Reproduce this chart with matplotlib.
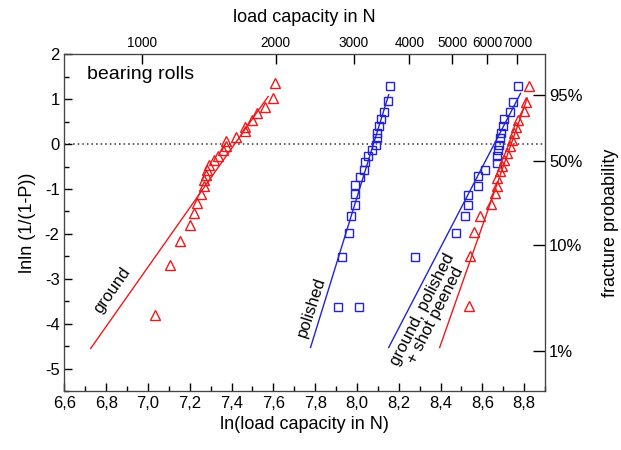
import numpy as np
import matplotlib
matplotlib.use("Agg")
import matplotlib.pyplot as plt
from matplotlib.ticker import MultipleLocator, FuncFormatter

plt.rcParams["font.family"] = ["Liberation Sans", "DejaVu Sans"]
plt.rcParams["axes.unicode_minus"] = False

RED = "#f01818"
BLUE = "#2222d8"

# ground (red triangles)
ground_x = [7.606, 7.596, 7.558, 7.524, 7.497, 7.462, 7.462, 7.421, 7.373, 7.373,
            7.361, 7.337, 7.314, 7.293, 7.282, 7.277, 7.266, 7.270, 7.253, 7.234,
            7.222, 7.202, 7.154, 7.106, 7.034]
ground_y = [1.356, 1.036, 0.836, 0.689, 0.540, 0.390, 0.296, 0.169, 0.073, -0.038,
            -0.127, -0.275, -0.349, -0.460, -0.571, -0.682, -0.793, -0.942, -1.111, -1.311,
            -1.533, -1.793, -2.164, -2.697, -3.816]
ground_fit_x = [6.726, 7.575]
ground_fit_y = [-4.55, 1.06]

# polished (blue squares)
polished_x = [8.160, 8.147, 8.128, 8.117, 8.107, 8.096, 8.096, 8.093, 8.072, 8.051,
              8.040, 8.032, 8.016, 7.992, 7.992, 7.992, 7.972, 7.964, 7.930, 7.908, 8.008]
polished_y = [1.302, 0.962, 0.725, 0.555, 0.407, 0.258, 0.133, -0.016, -0.142, -0.275,
              -0.408, -0.571, -0.733, -0.904, -1.104, -1.349, -1.608, -1.978, -2.520, -3.622, -3.622]
polished_fit_x = [7.778, 8.152]
polished_fit_y = [-4.53, 1.10]

# ground, polished (blue squares)
gp_x = [8.772, 8.746, 8.732, 8.703, 8.700, 8.691, 8.684, 8.679, 8.674, 8.671,
        8.668, 8.612, 8.580, 8.580, 8.531, 8.531, 8.515, 8.472, 8.277]
gp_y = [1.302, 0.947, 0.725, 0.555, 0.414, 0.258, 0.133, -0.016, -0.127, -0.275,
        -0.423, -0.571, -0.719, -0.927, -1.127, -1.349, -1.608, -1.978, -2.520]
gp_fit_x = [8.152, 8.783]
gp_fit_y = [-4.53, 1.13]

# ground, polished + shot peened (red triangles)
sp_x = [8.823, 8.810, 8.799, 8.770, 8.759, 8.751, 8.743, 8.732, 8.719, 8.706,
        8.695, 8.687, 8.671, 8.668, 8.663, 8.644, 8.587, 8.559, 8.540, 8.535]
sp_y = [1.302, 0.947, 0.740, 0.540, 0.390, 0.244, 0.096, -0.053, -0.200, -0.349,
        -0.497, -0.608, -0.756, -0.927, -1.089, -1.327, -1.608, -1.964, -2.497, -3.608]
sp_fit_x = [8.396, 8.815]
sp_fit_y = [-4.53, 1.02]

# top axis: load capacity in N (position on the bottom scale as printed)
top_ticks_N = [1000, 2000, 3000, 4000, 5000, 6000, 7000]
top_scale, top_offset = 0.9233, 0.5925

# right axis: fracture probability
prob_ticks = [0.95, 0.50, 0.10, 0.01]
prob_labels = ["95%", "50%", "10%", "1%"]

fig = plt.figure(figsize=(6.21, 4.5), dpi=100)
ax = fig.add_axes([0.1037, 0.1311, 0.7739, 0.7482])

ax.axhline(0, color="#333333", ls=(0, (1, 2)), lw=1.1, zorder=1)

ax.plot(ground_fit_x, ground_fit_y, color=RED, lw=1)
ax.plot(ground_x, ground_y, ls="none", marker="^", ms=7.5, mfc="none", mec=RED, mew=1)
ax.plot(polished_fit_x, polished_fit_y, color=BLUE, lw=1)
ax.plot(polished_x, polished_y, ls="none", marker="s", ms=6, mfc="none", mec=BLUE, mew=1)
ax.plot(gp_fit_x, gp_fit_y, color=BLUE, lw=1)
ax.plot(gp_x, gp_y, ls="none", marker="s", ms=6, mfc="none", mec=BLUE, mew=1)
ax.plot(sp_fit_x, sp_fit_y, color=RED, lw=1)
ax.plot(sp_x, sp_y, ls="none", marker="^", ms=7.5, mfc="none", mec=RED, mew=1)

ax.set_xlim(6.6, 8.9)
ax.set_ylim(-5.5, 2)
ax.xaxis.set_major_locator(MultipleLocator(0.2))
ax.xaxis.set_minor_locator(MultipleLocator(0.1))
ax.yaxis.set_major_locator(MultipleLocator(1))
ax.yaxis.set_minor_locator(MultipleLocator(0.5))
ax.xaxis.set_major_formatter(FuncFormatter(lambda v, p: f"{v:.1f}".replace(".", ",")))
ax.yaxis.set_major_formatter(FuncFormatter(lambda v, p: f"{v:.0f}"))
ax.tick_params(axis="both", which="major", direction="in", length=6, width=1, labelsize=12)
ax.tick_params(axis="both", which="minor", direction="in", length=3.5, width=1)
ax.tick_params(axis="y", right=False)
ax.tick_params(axis="x", top=False, which="both")
ax.set_xlabel("ln(load capacity in N)", fontsize=13, labelpad=4)
ax.set_ylabel("lnln (1/(1-P))", fontsize=13, labelpad=6)
for s in ax.spines.values():
    s.set_color("#444444")

ax.text(6.71, 1.55, "bearing rolls", fontsize=14, va="center")
ax.text(6.83, -3.25, "ground", fontsize=12, rotation=55, ha="center", va="center")
ax.text(7.78, -3.62, "polished", fontsize=12, rotation=72, ha="center", va="center")
ax.text(8.345, -3.75, "ground, polished\n+ shot peened", fontsize=12, rotation=63,
        ha="center", va="center", linespacing=0.95)

top = ax.twiny()
top.set_xlim(ax.get_xlim())
top.set_xticks([top_scale * np.log(v) + top_offset for v in top_ticks_N],
               [str(v) for v in top_ticks_N])
top.xaxis.set_minor_locator(plt.NullLocator())
top.tick_params(axis="x", direction="in", length=7, width=1, labelsize=9.8, pad=3)
top.set_xlabel("load capacity in N", fontsize=13, labelpad=10)

right = ax.twinx()
right.set_ylim(ax.get_ylim())
right.set_yticks([np.log(-np.log(1 - p)) for p in prob_ticks], prob_labels)
right.yaxis.set_minor_locator(plt.NullLocator())
right.tick_params(axis="y", direction="in", length=9, width=1, labelsize=12, pad=3)
right.set_ylabel("fracture probability", fontsize=13, labelpad=14)
for a in (top, right):
    for s in a.spines.values():
        s.set_color("#444444")

fig.savefig("out.png", dpi=100)
